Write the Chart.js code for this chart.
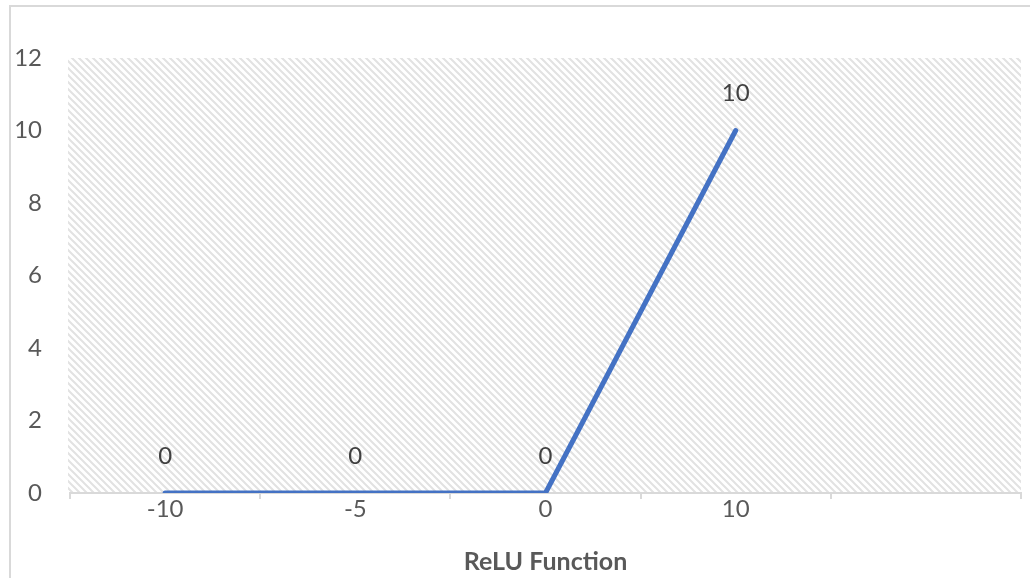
<!DOCTYPE html>
<html>
<head>
<meta charset="utf-8">
<script src="https://cdn.jsdelivr.net/npm/chart.js@4/dist/chart.umd.min.js"></script>
<style>
  html, body { margin: 0; padding: 0; background: #ffffff; }
  #wrap { position: relative; width: 1030px; height: 578px; }
</style>
</head>
<body>
<div id="wrap"><canvas id="chart"></canvas></div>
<script>
// Inputs of the ReLU curve (category axis) and the function's outputs
const categories = ['-10', '-5', '0', '10', ''];
const reluValues = [0, 0, 0, 10, null];
const yTicks = [0, 2, 4, 6, 8, 10, 12];

const FONT = 'Lato, "Open Sans", sans-serif';
const GRAY_TEXT = '#595959';
const AXIS_GRAY = '#d9d9d9';

// Diagonal hatch fill used behind the plot area
function makeHatch() {
  const size = 7;
  const c = document.createElement('canvas');
  c.width = size; c.height = size;
  const g = c.getContext('2d');
  g.fillStyle = '#ffffff';
  g.fillRect(0, 0, size, size);
  g.strokeStyle = '#e2e2e2';
  g.lineWidth = 2;
  g.beginPath();
  g.moveTo(-1, -1); g.lineTo(size + 1, size + 1);
  g.moveTo(-size - 1, -1); g.lineTo(1, size + 1);
  g.moveTo(size - 1, -1); g.lineTo(2 * size + 1, size + 1);
  g.stroke();
  return c;
}

const backdrop = {
  id: 'backdrop',
  beforeDraw(chart) {
    const { ctx, chartArea: a } = chart;
    ctx.save();
    ctx.fillStyle = ctx.createPattern(makeHatch(), 'repeat');
    ctx.fillRect(a.left - 2, a.top, a.right - a.left + 2, a.bottom - a.top - 1);
    // frame lines of the chart box
    ctx.strokeStyle = AXIS_GRAY;
    ctx.lineWidth = 2;
    ctx.beginPath();
    ctx.moveTo(10, chart.height);
    ctx.lineTo(10, 6);
    ctx.lineTo(chart.width, 6);
    ctx.stroke();
    ctx.restore();
  }
};

// Value labels above each point
const valueLabels = {
  id: 'valueLabels',
  afterDatasetsDraw(chart) {
    const { ctx } = chart;
    const meta = chart.getDatasetMeta(0);
    ctx.save();
    ctx.font = '24px ' + FONT;
    ctx.fillStyle = '#404040';
    ctx.textAlign = 'center';
    ctx.textBaseline = 'middle';
    meta.data.forEach((pt, i) => {
      const v = reluValues[i];
      if (v === null || v === undefined) return;
      ctx.fillText(String(v), pt.x, pt.y - 37);
    });
    ctx.restore();
  }
};

new Chart(document.getElementById('chart'), {
  type: 'line',
  data: {
    labels: categories,
    datasets: [{
      label: 'ReLU',
      data: reluValues,
      borderColor: '#4472C4',
      borderWidth: 5,
      borderCapStyle: 'round',
      borderJoinStyle: 'round',
      pointRadius: 0,
      tension: 0,
      spanGaps: false
    }]
  },
  options: {
    responsive: true,
    maintainAspectRatio: false,
    animation: false,
    layout: { padding: { top: 58, right: 9, bottom: 0, left: 0 } },
    plugins: { legend: { display: false }, tooltip: { enabled: false } },
    scales: {
      x: {
        type: 'category',
        offset: true,
        grid: {
          offset: true,
          drawOnChartArea: false,
          drawTicks: true,
          tickLength: 6,
          color: AXIS_GRAY,
          lineWidth: 2
        },
        border: { display: true, color: AXIS_GRAY, width: 2 },
        ticks: {
          color: GRAY_TEXT,
          font: { family: FONT, size: 24 },
          padding: -4,
          maxRotation: 0
        },
        title: {
          display: true,
          text: 'ReLU Function',
          color: GRAY_TEXT,
          font: { family: FONT, size: 25, weight: 'bold' },
          padding: { top: 0, bottom: 1 }
        },
        afterFit(scale) { scale.height = 85; }
      },
      y: {
        min: 0,
        max: 12,
        afterBuildTicks(scale) { scale.ticks = yTicks.map(v => ({ value: v })); },
        grid: { display: false, drawTicks: false },
        border: { display: false },
        ticks: {
          color: GRAY_TEXT,
          font: { family: FONT, size: 24 },
          padding: 28
        },
        afterFit(scale) { scale.width = 70; }
      }
    }
  },
  plugins: [backdrop, valueLabels]
});
</script>
</body>
</html>
